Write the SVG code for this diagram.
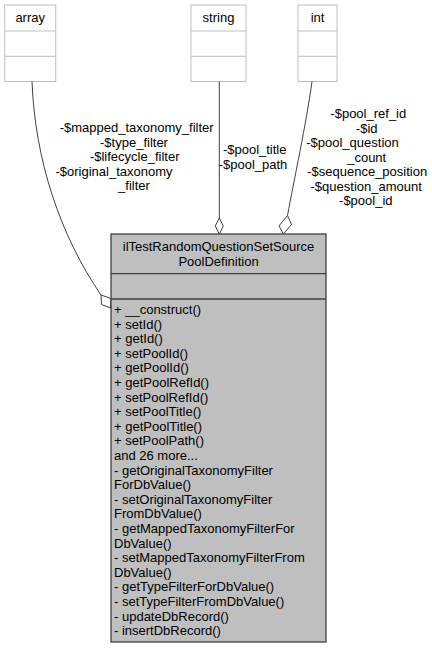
<svg xmlns="http://www.w3.org/2000/svg" width="432" height="653" viewBox="0 0 432 653">
<style>
text{font-family:"Liberation Sans",Arial,sans-serif;font-size:13px;fill:#000}
.c{text-anchor:middle}
.small rect{fill:#fff;stroke:#bfbfbf;stroke-width:1}
.small line{stroke:#bfbfbf;stroke-width:1}
.main rect{fill:#bfbfbf;stroke:#404040;stroke-width:1.3}
.main line{stroke:#404040;stroke-width:1.3}
.edge{fill:none;stroke:#404040;stroke-width:1}
.dia{fill:#fff;stroke:#404040;stroke-width:1}
</style>
<rect width="432" height="653" fill="#fff"/>
<g id="array" class="small">
<rect x="4.7" y="5" width="51" height="76.5"/>
<line x1="4.7" y1="31" x2="55.7" y2="31"/>
<line x1="4.7" y1="56.3" x2="55.7" y2="56.3"/>
<text class="c" x="30.2" y="22">array</text>
</g>
<g id="string" class="small">
<rect x="191" y="5" width="55" height="76.5"/>
<line x1="191" y1="31" x2="246" y2="31"/>
<line x1="191" y1="56.3" x2="246" y2="56.3"/>
<text class="c" x="218.5" y="22">string</text>
</g>
<g id="int" class="small">
<rect x="298" y="5" width="39" height="76.5"/>
<line x1="298" y1="31" x2="337" y2="31"/>
<line x1="298" y1="56.3" x2="337" y2="56.3"/>
<text class="c" x="317.5" y="22">int</text>
</g>
<g id="connectors">
<path class="edge" d="M32,81.5 C35,160 60,235 101,295"/>
<polygon class="dia" points="101,295 111,298.5 110.5,308 101.5,304.5"/>
<path class="edge" d="M219.3,81.5 L219.3,218"/>
<polygon class="dia" points="219.3,218 223.3,226 219.3,234 215.3,226"/>
<path class="edge" d="M312,81.5 C306,125 294,180 287.5,215.5"/>
<polygon class="dia" points="287.5,215.5 291.5,224.5 283.5,234 279,226"/>
<text class="c" x="136.7" y="132">-$mapped_taxonomy_filter</text>
<text class="c" x="134" y="146.5">-$type_filter</text>
<text class="c" x="134.7" y="161">-$lifecycle_filter</text>
<text class="c" x="114" y="175.5">-$original_taxonomy</text>
<text class="c" x="134" y="190">_filter</text>
<text class="c" x="254.7" y="154">-$pool_title</text>
<text class="c" x="253" y="168.7">-$pool_path</text>
<text class="c" x="368.3" y="118">-$pool_ref_id</text>
<text class="c" x="366.7" y="132.5">-$id</text>
<text class="c" x="352.5" y="147">-$pool_question</text>
<text class="c" x="366.7" y="161.5">_count</text>
<text class="c" x="367.2" y="176">-$sequence_position</text>
<text class="c" x="366.2" y="190.5">-$question_amount</text>
<text class="c" x="365.8" y="205">-$pool_id</text>
</g>
<g id="ilTestRandomQuestionSetSourcePoolDefinition" class="main">
<rect x="111" y="234" width="215" height="408"/>
<line x1="111" y1="273.7" x2="326" y2="273.7"/>
<line x1="111" y1="299" x2="326" y2="299"/>
<text class="c" x="218.5" y="251">ilTestRandomQuestionSetSource</text>
<text class="c" x="218.5" y="265.6">PoolDefinition</text>
<text x="114" y="314">+ __construct()</text>
<text x="114" y="328.6">+ setId()</text>
<text x="114" y="343.2">+ getId()</text>
<text x="114" y="357.8">+ setPoolId()</text>
<text x="114" y="372.4">+ getPoolId()</text>
<text x="114" y="387">+ getPoolRefId()</text>
<text x="114" y="401.6">+ setPoolRefId()</text>
<text x="114" y="416.2">+ setPoolTitle()</text>
<text x="114" y="430.8">+ getPoolTitle()</text>
<text x="114" y="445.4">+ setPoolPath()</text>
<text x="114" y="460">and 26 more...</text>
<text x="114" y="474.6">- getOriginalTaxonomyFilter</text>
<text x="114" y="489.2">ForDbValue()</text>
<text x="114" y="503.8">- setOriginalTaxonomyFilter</text>
<text x="114" y="518.4">FromDbValue()</text>
<text x="114" y="533">- getMappedTaxonomyFilterFor</text>
<text x="114" y="547.6">DbValue()</text>
<text x="114" y="562.2">- setMappedTaxonomyFilterFrom</text>
<text x="114" y="576.8">DbValue()</text>
<text x="114" y="591.4">- getTypeFilterForDbValue()</text>
<text x="114" y="606">- setTypeFilterFromDbValue()</text>
<text x="114" y="620.6">- updateDbRecord()</text>
<text x="114" y="635.2">- insertDbRecord()</text>
</g>
</svg>
